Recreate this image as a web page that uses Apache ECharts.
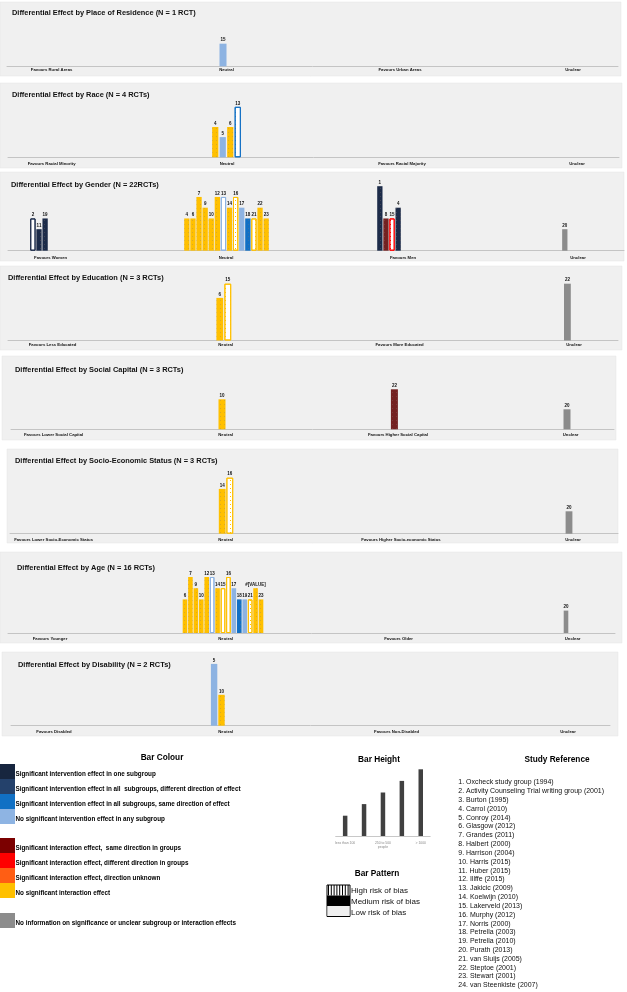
<!DOCTYPE html>
<html><head><meta charset="utf-8">
<script src="https://cdn.jsdelivr.net/npm/echarts@6/dist/echarts.min.js"></script>
<style>html,body{margin:0;padding:0;background:#fff}#c{width:627px;height:992px}</style>
</head><body><div id="c"></div><script>
// ================= DATA =================
const panelTitles = [
  'Differential Effect by Place of Residence (N = 1 RCT)',
  'Differential Effect by Race (N = 4 RCTs)',
  'Differential Effect by Gender (N = 22RCTs)',
  'Differential Effect by Education (N = 3 RCTs)',
  'Differential Effect by Social Capital (N = 3 RCTs)',
  'Differential Effect by Socio-Economic Status (N = 3 RCTs)',
  'Differential Effect by Age (N = 16 RCTs)',
  'Differential Effect by Disability (N = 2 RCTs)'
];
const residenceLabels = ['Favours Rural Areas', 'Neutral', 'Favours Urban Areas', 'Unclear'];
const raceLabels = ['Favours Racial Minority', 'Neutral', 'Favours Racial Majority', 'Unclear'];
const genderLabels = ['Favours Women', 'Neutral', 'Favours Men', 'Unclear'];
const educationLabels = ['Favours Less Educated', 'Neutral', 'Favours More Educated', 'Unclear'];
const socialLabels = ['Favours Lower Social Capital', 'Neutral', 'Favours Higher Social Capital', 'Unclear'];
const sesLabels = ['Favours Lower Socio-Economic Status', 'Neutral', 'Favours Higher Socio-economic Status', 'Unclear'];
const ageLabels = ['Favours Younger', 'Neutral', 'Favours Older', 'Unclear'];
const disabilityLabels = ['Favours Disabled', 'Neutral', 'Favours Non-Disabled', 'Unclear'];

// group: 0 = favours first subgroup, 1 = neutral, 2 = favours second subgroup, 3 = unclear
// colour codes: SIG1 one subgroup, SIGD all/different, SIGS all/same, NSI none,
//               IXS interaction same, IXD interaction different, IXU interaction unknown, NIX no interaction, NA no info
// pattern codes: H high risk, M medium risk, L low risk
const residenceStudies = [15];
const residenceGroups = [1];
const residenceHeights = [3];
const residenceColours = ['NSI'];
const residencePatterns = ['M'];

const raceStudies = [4, 5, 6, 13];
const raceGroups = [1, 1, 1, 1];
const raceHeights = [3, 2, 3, 5];
const raceColours = ['NIX', 'NSI', 'NIX', 'SIGS'];
const racePatterns = ['L', 'M', 'L', 'H'];

const genderStudies = [2, 11, 19, 4, 6, 7, 9, 10, 12, 13, 14, 16, 17, 18, 21, 22, 23, 1, 8, 15, 4, 20];
const genderGroups  = [0, 0, 0, 1, 1, 1, 1, 1, 1, 1, 1, 1, 1, 1, 1, 1, 1, 2, 2, 2, 2, 3];
const genderHeights = [3, 2, 3, 3, 3, 5, 4, 3, 5, 5, 4, 5, 4, 3, 3, 4, 3, 6, 3, 3, 4, 2];
const genderColours = ['SIG1', 'SIG1', 'SIG1', 'NIX', 'NIX', 'NIX', 'NIX', 'NIX', 'NIX', 'NSI', 'NIX', 'NIX', 'NSI', 'SIGS', 'NIX', 'NIX', 'NIX', 'SIG1', 'IXS', 'IXD', 'SIG1', 'NA'];
const genderPatterns = ['H', 'L', 'L', 'L', 'L', 'L', 'L', 'L', 'L', 'H', 'L', 'H', 'M', 'L', 'H', 'L', 'L', 'L', 'L', 'H', 'L', 'M'];

const educationStudies = [6, 15, 22];
const educationGroups = [1, 1, 3];
const educationHeights = [3, 4, 4];
const educationColours = ['NIX', 'NIX', 'NA'];
const educationPatterns = ['L', 'H', 'M'];

const socialStudies = [10, 22, 20];
const socialGroups = [1, 2, 3];
const socialHeights = [3, 4, 2];
const socialColours = ['NIX', 'IXS', 'NA'];
const socialPatterns = ['L', 'L', 'M'];

const sesStudies = [14, 16, 20];
const sesGroups = [1, 1, 3];
const sesHeights = [4, 5, 2];
const sesColours = ['NIX', 'NIX', 'NA'];
const sesPatterns = ['L', 'H', 'M'];

const ageStudies = [6, 7, 9, 10, 12, 13, 14, 15, 16, 17, 18, 19, 21, 22, 23, 20];
const ageBarLabels = ['6', '7', '9', '10', '12', '13', '14', '15', '16', '17', '18', '19', '21', '#[VALUE]', '23', '20'];
const ageGroups = [1, 1, 1, 1, 1, 1, 1, 1, 1, 1, 1, 1, 1, 1, 1, 3];
const ageHeights = [3, 5, 4, 3, 5, 5, 4, 4, 5, 4, 3, 3, 3, 4, 3, 2];
const ageColours = ['NIX', 'NIX', 'NIX', 'NIX', 'NIX', 'NSI', 'NIX', 'NIX', 'NIX', 'NSI', 'SIGS', 'NSI', 'NIX', 'NIX', 'NIX', 'NA'];
const agePatterns = ['L', 'L', 'L', 'L', 'L', 'H', 'L', 'H', 'H', 'M', 'L', 'M', 'H', 'L', 'L', 'M'];

const disabilityStudies = [5, 10];
const disabilityGroups = [1, 1];
const disabilityHeights = [6, 3];
const disabilityColours = ['NSI', 'NIX'];
const disabilityPatterns = ['M', 'L'];

const barHeightLevels = ['1', '2', '3', '4', '5'];
const barHeightValues = [1.75, 2.75, 3.75, 4.75, 5.75];
const barHeightTickLabels = ['less than 100', '100 to 250\npeople', '250 to 500\npeople', '500 to 1000\npeople', '> 1000'];

const colourLegendTexts = [
  'Significant intervention effect in one subgroup',
  'Significant intervention effect in all  subgroups, different direction of effect',
  'Significant intervention effect in all subgroups, same direction of effect',
  'No significant intervention effect in any subgroup',
  'Significant interaction effect,  same direction in groups',
  'Significant interaction effect, different direction in groups',
  'Significant interaction effect, direction unknown',
  'No significant interaction effect',
  'No information on significance or unclear subgroup or interaction effects'
];
const colourLegendCodes = ['SIG1', 'SIGD', 'SIGS', 'NSI', 'IXS', 'IXD', 'IXU', 'NIX', 'NA'];
const patternLegendTexts = ['High risk of bias', 'Medium risk of bias', 'Low risk of bias'];
const studyReferences = [
  '1. Oxcheck study group (1994)',
  '2. Activity Counseling Trial writing group (2001)',
  '3. Burton (1995)',
  '4. Carrol (2010)',
  '5. Conroy (2014)',
  '6. Glasgow (2012)',
  '7. Grandes (2011)',
  '8. Halbert (2000)',
  '9. Harrison (2004)',
  '10. Harris (2015)',
  '11. Huber (2015)',
  '12. Illffe (2015)',
  '13. Jakicic (2009)',
  '14. Koelwijn (2010)',
  '15. Lakerveld (2013)',
  '16. Murphy (2012)',
  '17. Norris (2000)',
  '18. Petrella (2003)',
  '19. Petrella (2010)',
  '20. Purath (2013)',
  '21. van Sluijs (2005)',
  '22. Steptoe (2001)',
  '23. Stewart (2001)',
  '24. van Steenkiste (2007)'
];

// ================= STYLE / LAYOUT =================
const COLOURS = {SIG1: '#1c2b49', SIGD: '#27416a', SIGS: '#1270c4', NSI: '#8db3e2',
  IXS: '#742121', IXD: '#ff0000', IXU: '#ff6414', NIX: '#ffc000', NA: '#8c8c8c'};
const LEGEND_COLOURS = {SIG1: '#17263f', SIGD: '#24416b', SIGS: '#1170c4', NSI: '#8eb4e3',
  IXS: '#7b0000', IXD: '#ff0000', IXU: '#ff5e14', NIX: '#ffc000', NA: '#8c8c8c'};

function hasFont(f) {
  const c = document.createElement('canvas').getContext('2d');
  c.font = '40px monospace';
  const a = c.measureText('abcdefghijWMil0123').width;
  c.font = '40px "' + f + '", monospace';
  return c.measureText('abcdefghijWMil0123').width !== a;
}
const NARROW = hasFont('Liberation Sans Narrow');
const FF = NARROW ? 'Liberation Sans Narrow' : 'Liberation Sans';
const K = NARROW ? 1 : 0.82;

const panels = [
  {labels: residenceLabels, studies: residenceStudies, groups: residenceGroups, heights: residenceHeights, colours: residenceColours, patterns: residencePatterns},
  {labels: raceLabels, studies: raceStudies, groups: raceGroups, heights: raceHeights, colours: raceColours, patterns: racePatterns},
  {labels: genderLabels, studies: genderStudies, groups: genderGroups, heights: genderHeights, colours: genderColours, patterns: genderPatterns},
  {labels: educationLabels, studies: educationStudies, groups: educationGroups, heights: educationHeights, colours: educationColours, patterns: educationPatterns},
  {labels: socialLabels, studies: socialStudies, groups: socialGroups, heights: socialHeights, colours: socialColours, patterns: socialPatterns},
  {labels: sesLabels, studies: sesStudies, groups: sesGroups, heights: sesHeights, colours: sesColours, patterns: sesPatterns},
  {labels: ageLabels, studies: ageStudies, barLabels: ageBarLabels, groups: ageGroups, heights: ageHeights, colours: ageColours, patterns: agePatterns},
  {labels: disabilityLabels, studies: disabilityStudies, groups: disabilityGroups, heights: disabilityHeights, colours: disabilityColours, patterns: disabilityPatterns}
];

const LAYOUT = [
  {box: [0, 2, 621, 74], tx: 12, ty: 14, axisY: 66.3, labelY: 70.7, unit: 9.1, centers: [52, 223, 400, 566], lx: [51.6, 226.5, 400, 573], step: 7, bw: 7, line: [7, 618]},
  {box: [0, 83, 622, 85], tx: 12, ty: 95.7, axisY: 157.3, labelY: 164.3, unit: 10.1, centers: [52, 226.5, 400, 566], lx: [51.6, 227, 402, 577], step: 7.5, bw: 6.2, line: [8, 619]},
  {box: [0, 172, 624, 89], tx: 11, ty: 185.7, axisY: 250.7, labelY: 258.3, unit: 10.75, centers: [39, 226.5, 389, 564.8], lx: [50.6, 226, 403, 578], step: 6.1, bw: 5.3, line: [8, 624]},
  {box: [0, 266, 622, 84], tx: 8, ty: 279, axisY: 340.5, labelY: 346, unit: 14.2, centers: [52, 223.8, 400, 567.4], lx: [52.6, 225.6, 399.6, 574], step: 8, bw: 6.8, line: [8, 618]},
  {box: [2, 356, 614, 84], tx: 15, ty: 370.7, axisY: 429.3, labelY: 435.3, unit: 10, centers: [52, 222, 394.4, 567], lx: [53.6, 225.6, 398, 570.6], step: 7, bw: 7, line: [11, 614]},
  {box: [7, 449, 611, 94], tx: 15, ty: 462.3, axisY: 533.7, labelY: 540.7, unit: 11.2, centers: [52, 226, 400, 569], lx: [53.6, 225.6, 401, 573], step: 7.6, bw: 6.8, line: [10, 618]},
  {box: [0, 552, 622, 91], tx: 17, ty: 569, axisY: 633, labelY: 639.3, unit: 11.2, centers: [52, 223, 400, 566], lx: [50, 225.6, 398.6, 572.6], step: 5.43, bw: 4.6, line: [8, 615]},
  {box: [2, 652, 616, 84], tx: 18, ty: 666.3, axisY: 725.7, labelY: 732.3, unit: 10.3, centers: [52, 217.8, 400, 566], lx: [54, 225.6, 396.6, 568], step: 7.4, bw: 6.4, line: [11, 610]}
];

function barStyle(code, pat) {
  const c = COLOURS[code];
  if (pat === 'H') {
    return {color: '#ffffff', borderColor: c, borderWidth: 1,
      decal: {symbol: 'rect', symbolSize: 1, color: c, dashArrayX: [1, 4], dashArrayY: [1, 3]}};
  }
  if (pat === 'L') {
    return {color: c, decal: {symbol: 'rect', symbolSize: 1, color: 'rgba(140,120,110,0.3)', dashArrayX: [1, 2.5], dashArrayY: [1, 2.5]}};
  }
  return {color: c};
}

const option = {animation: false, backgroundColor: '#ffffff', title: [], grid: [], xAxis: [], yAxis: [], series: [], graphic: []};
const G = option.graphic;
const TS = 7.8 * K * 1.16;

panels.forEach((p, pi) => {
  const L = LAYOUT[pi];
  const gH = 80;
  G.push({type: 'rect', z: -20, silent: true, shape: {x: L.box[0], y: L.box[1], width: L.box[2], height: L.box[3]},
    style: {fill: '#f0f0f0', stroke: '#e4e4e4', lineWidth: 0.5}});
  option.title.push({text: panelTitles[pi], left: L.tx, top: L.ty - TS * 0.6, padding: 0,
    textStyle: {fontFamily: FF, fontSize: TS, fontWeight: 'bold', color: '#111'}});
  option.grid.push({left: L.line[0], width: L.line[1] - L.line[0], top: L.axisY - gH, height: gH});
  const labelMap = L.lx;
  option.xAxis.push({type: 'value', gridIndex: pi, min: L.line[0], max: L.line[1],
    splitLine: {show: false}, axisTick: {show: false},
    axisLine: {show: true, lineStyle: {color: '#c4c4c4', width: 1}},
    axisLabel: {customValues: L.lx, margin: L.labelY - L.axisY - 2.9, fontFamily: FF, fontSize: 5.2 * K, fontWeight: 'bold', color: '#111',
      formatter: (v) => {
        let best = 0;
        labelMap.forEach((c, i) => { if (Math.abs(c - v) < Math.abs(labelMap[best] - v)) best = i; });
        return p.labels[best];
      }}});
  option.yAxis.push({type: 'value', gridIndex: pi, min: 0, max: gH / L.unit, show: false});
  const counts = [0, 0, 0, 0], seen = [0, 0, 0, 0];
  p.groups.forEach(g => counts[g]++);
  const data = p.studies.map((s, i) => {
    const g = p.groups[i];
    const k = seen[g]++;
    const x = L.centers[g] + (k - (counts[g] - 1) / 2) * L.step;
    return {name: p.barLabels ? p.barLabels[i] : String(s), value: [x, p.heights[i]], itemStyle: barStyle(p.colours[i], p.patterns[i])};
  });
  option.series.push({type: 'bar', xAxisIndex: pi, yAxisIndex: pi, barWidth: L.bw, data,
    label: {show: true, position: 'top', distance: 1, formatter: (d) => d.name,
      fontFamily: FF, fontSize: 5.5 * K, fontWeight: 'bold', color: '#111'}});
});

// ---- Bar height legend mini chart ----
option.grid.push({left: 335.7, width: 94.5, top: 836 - 80, height: 80});
option.xAxis.push({type: 'category', gridIndex: 8, data: barHeightLevels,
  axisLine: {lineStyle: {color: '#c8c8c8', width: 1}}, axisTick: {show: false},
  axisLabel: {margin: 5, fontFamily: FF, fontSize: 3.4, color: '#888', lineHeight: 4.2,
    formatter: (v, i) => barHeightTickLabels[i]}});
option.yAxis.push({type: 'value', gridIndex: 8, min: 0, max: 80 / 11.6, show: false});
option.series.push({type: 'bar', xAxisIndex: 8, yAxisIndex: 8, barWidth: 4.5, data: barHeightValues,
  itemStyle: {color: '#404040'}});

// ---- Bar colour legend ----
const T = (text, x, y, size, weight, align, color) => G.push({type: 'text', z: 10, silent: true, x, y,
  style: {text, fontFamily: FF, fontSize: size * K, fontWeight: weight || 'normal', fill: color || '#000', align: align || 'left', verticalAlign: 'middle'}});
T('Bar Colour', 162, 757.5, 10.1, 'bold', 'center');
const swatchY = [764, 779, 794, 809, 838, 853, 868, 883, 913];
colourLegendCodes.forEach((c, i) => {
  G.push({type: 'rect', z: 5, silent: true, shape: {x: 0, y: swatchY[i], width: 15, height: 15}, style: {fill: LEGEND_COLOURS[c]}});
  T(colourLegendTexts[i], 15.5, swatchY[i] + 10, 6.6 * 1.17, 'bold', 'left', '#000');
});

// ---- Bar height / pattern titles ----
T('Bar Height', 379, 760, 10.1, 'bold', 'center');
T('Bar Pattern', 377, 873.5, 10.1, 'bold', 'center');
G.push({type: 'rect', z: 5, silent: true, shape: {x: 327, y: 885, width: 23, height: 31.5}, style: {fill: '#fff', stroke: '#000', lineWidth: 1}});
for (let i = 0; i < 8; i++) {
  G.push({type: 'line', z: 6, silent: true, shape: {x1: 328.5 + i * 2.8, y1: 885, x2: 328.5 + i * 2.8, y2: 895.5}, style: {stroke: '#000', lineWidth: 1}});
}
G.push({type: 'rect', z: 6, silent: true, shape: {x: 327, y: 895.5, width: 23, height: 10.5}, style: {fill: '#000'}});
G.push({type: 'rect', z: 6, silent: true, shape: {x: 327.5, y: 906, width: 22, height: 10}, style: {fill: '#f0f0f0'}});
patternLegendTexts.forEach((t, i) => T(t, 351, 890.7 + i * 11, 8.2 * 1.19, 'normal', 'left', '#111'));

// ---- Study reference ----
T('Study Reference', 557, 760, 10.1, 'bold', 'center');
studyReferences.forEach((t, i) => T(t, 458.3, 782.3 + i * 8.83, 7.1 * 1.2, 'normal', 'left', '#111'));

const chart = echarts.init(document.getElementById('c'), null, {renderer: 'canvas'});
chart.setOption(option);
</script></body></html>
